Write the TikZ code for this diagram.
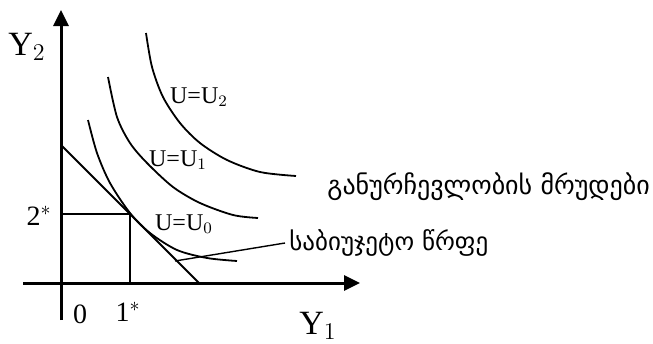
\documentclass[tikz,border=0pt]{standalone}
\usepackage{fontspec}
\setmainfont{Liberation Serif}
\newfontfamily\geofont{DejaVu Sans}
\usetikzlibrary{arrows.meta}

\begin{document}
\begin{tikzpicture}[
      x=0.5pt, y=-0.5pt,
      axis/.style={line width=1.5pt, -{Triangle[length=8pt, width=7.5pt]}},
      curve/.style={line width=0.9pt},
      guide/.style={line width=0.7pt},
      lbl/.style={inner sep=0pt, font=\fontsize{14}{16}\selectfont},
      axlbl/.style={inner sep=0pt, font=\fontsize{17}{19}\selectfont},
      ulbl/.style={inner sep=0pt, font=\fontsize{12}{14}\selectfont},
      geo/.style={inner sep=0pt, anchor=west, font=\geofont\fontsize{12.5}{14}\selectfont}
    ]
    \useasboundingbox (0,0) rectangle (653,343);

    % axes
    \coordinate (ybot) at (61,320);
    \coordinate (ytop) at (61,10);
    \coordinate (xleft) at (23,283);
    \coordinate (xright) at (360,283);
    \draw[axis] (ybot) -- (ytop);
    \draw[axis] (xleft) -- (xright);

    % budget line and optimum
    \coordinate (bud_top) at (61,145);
    \coordinate (bud_bot) at (199,283);
    \coordinate (opt) at (130,214);
    \draw[curve] (bud_top) -- (bud_bot);
    \draw[guide] (opt -| ybot) -- (opt);
    \draw[guide] (opt) -- (opt |- xleft);

    % indifference curves
    \draw[curve] plot[smooth] coordinates {(88,120) (97,153) (110,183) (130,213) (150,233) (177,250) (207,258) (237,261)};
    \draw[curve] plot[smooth] coordinates {(108,77) (117,117) (130,143) (147,163) (173,187) (200,203) (233,215) (258,218)};
    \draw[curve] plot[smooth] coordinates {(146,33) (152,67) (163,97) (180,123) (200,143) (227,160) (260,172) (296,176)};

    % labels
    \node[axlbl] (y_two) at (27,47) {Y$_2$};
    \node[axlbl] (y_one) at (318,326) {Y$_1$};
    \node[lbl] (star_two) at (39,216) {2$^*$};
    \node[lbl] (zero) at (80,314) {0};
    \node[lbl] (star_one) at (128,312) {1$^*$};
    \node[ulbl] (u_two) at (199,97) {U=U$_2$};
    \node[ulbl] (u_one) at (178,160) {U=U$_1$};
    \node[ulbl] (u_zero) at (184,224) {U=U$_0$};

    \node[geo, font=\geofont\fontsize{13}{15}\selectfont] (indiff) at (327,187) {განურჩევლობის მრუდები};
    \node[geo] (budget) at (289,243) {საბიუჯეტო წრფე};
    \coordinate (lead) at (175,261);
    \draw[guide] (lead) -- ([xshift=-2pt]budget.west);
  \end{tikzpicture}
\end{document}
